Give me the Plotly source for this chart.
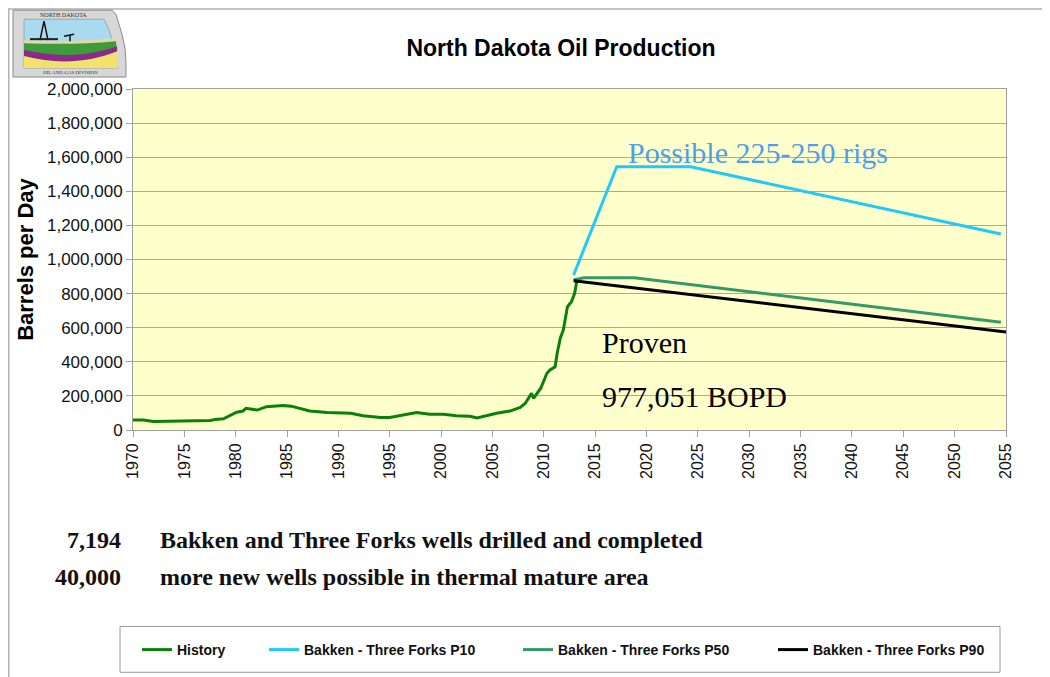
import plotly.graph_objects as go

# ---------------- data ----------------
hist_year = [1970.0, 1971.0, 1972.0, 1975.2, 1977.5, 1978.0, 1978.8, 1980.1, 1980.7, 1981.0,
             1982.1, 1983.0, 1984.6, 1985.4, 1986.1, 1987.2, 1988.9, 1990.2, 1991.2, 1992.4,
             1994.1, 1995.0, 1996.3, 1997.6, 1998.9, 2000.2, 2001.5, 2002.8, 2003.5, 2004.5,
             2005.4, 2006.7, 2007.7, 2008.2, 2008.8, 2009.0, 2009.7, 2010.3, 2010.6, 2011.1,
             2011.3, 2011.6, 2011.9, 2012.3, 2012.7, 2013.0, 2013.2]
hist_bopd = [59000, 59000, 50000, 52000, 56000, 61000, 66000, 104000, 111000, 127000,
             117000, 137000, 143000, 140000, 127000, 111000, 102000, 98000, 98000, 84000,
             74000, 74000, 88000, 102000, 92000, 92000, 84000, 81000, 70000, 84000,
             98000, 111000, 133000, 157000, 215000, 186000, 245000, 333000, 352000, 371000,
             450000, 538000, 587000, 723000, 753000, 802000, 870000]

p10_year = [2012.9, 2017.1, 2024.3, 2054.5]
p10_bopd = [909000, 1544000, 1544000, 1150000]

p50_year = [2012.9, 2013.9, 2018.8, 2054.5]
p50_bopd = [880000, 893000, 893000, 632000]

p90_year = [2012.9, 2055.0]
p90_bopd = [876000, 575000]

series_names = ["History", "Bakken - Three Forks P10",
                "Bakken - Three Forks P50", "Bakken - Three Forks P90"]

title_text = "North Dakota Oil Production"
y_title = "Barrels per Day"
note_numbers = ["7,194", "40,000"]
note_texts = ["Bakken and Three Forks wells drilled and completed",
              "more new wells possible in thermal mature area"]
label_p10 = "Possible 225-250 rigs"
label_proven = ["Proven", "977,051 BOPD"]

# ---------------- layout geometry ----------------
# the page puts the figure at an 8px offset, so the figure is sized to end at the window edge
OFF = 8
W, H = 1050 - OFF, 677 - OFF
PL, PR, PT, PB = 133, 1006, 89, 431          # plot area, in window pixels
PW, PH = PR - PL, PB - PT
ML, MT = PL - OFF, PT - OFF
MR, MB = W - (PR - OFF), H - (PB - OFF)


def px(x):
    return (x - PL) / PW


def py(y):
    return (PB - y) / PH


def path(cmds, close=True):
    out = []
    for c in cmds:
        op, pts = c[0], c[1:]
        out.append(op + " ".join(f"{px(a):.5f},{py(b):.5f}" for a, b in pts))
    return " ".join(out) + (" Z" if close else "")


SANS = "Arial, Liberation Sans, sans-serif"
SERIF = "Times New Roman, Liberation Serif, serif"

fig = go.Figure()
colors = ["#0a800a", "#22c8f7", "#339966", "#000000"]
xs = [hist_year, p10_year, p50_year, p90_year]
ys = [hist_bopd, p10_bopd, p50_bopd, p90_bopd]
legends = ["legend", "legend2", "legend3", "legend4"]
for name, x, y, c, lg in zip(series_names, xs, ys, colors, legends):
    fig.add_trace(go.Scatter(x=x, y=y, mode="lines", name=name, showlegend=True,
                             line=dict(color=c, width=3), legend=lg))

legend_line_start = [143, 270, 524, 779]
leg_common = dict(orientation="h", xanchor="left", yanchor="middle", y=py(650),
                  bgcolor="rgba(0,0,0,0)", borderwidth=0, itemwidth=30, visible=True,
                  font=dict(family=SANS, size=14, color="#111", weight="bold"))
layout_legends = {}
for lg, lx in zip(legends, legend_line_start):
    layout_legends[lg] = dict(x=px(lx - 6), **leg_common)

shapes = []
# outer figure frame
shapes.append(dict(type="rect", xref="paper", yref="paper", x0=px(8.7), y0=py(8.7),
                   x1=px(1070), y1=py(700), line=dict(color="#b0b0b0", width=1.5),
                   fillcolor="rgba(0,0,0,0)", layer="below"))
# legend box
shapes.append(dict(type="rect", xref="paper", yref="paper", x0=px(120), y0=py(628),
                   x1=px(1000), y1=py(674), line=dict(color="#9a9a9a", width=1),
                   fillcolor="rgba(0,0,0,0)"))
# logo (simplified drawing)
shapes.append(dict(type="path", xref="paper", yref="paper",
                   path=path([("M", (13, 10)), ("L", (112, 10)), ("L", (116, 14)), ("L", (119, 24)),
                              ("L", (122, 34)), ("L", (125, 48)), ("L", (126, 62)), ("L", (126, 77)),
                              ("L", (13, 77))]),
                   fillcolor="#d7d7d7", line=dict(color="#8a8a8a", width=1)))
shapes.append(dict(type="path", xref="paper", yref="paper",
                   path=path([("M", (24, 19)), ("L", (104, 19)), ("L", (108, 27)), ("L", (112, 39)),
                              ("L", (116, 54)), ("L", (118, 68)), ("L", (24, 68))]),
                   fillcolor="#a9daf0", line=dict(color="#777", width=0.5)))
band_specs = [
    ((40, 41), (116, 38), "#e6d6a2"),
    ((43, 44), (116, 41), "#3f9c3c"),
    ((50, 57), (117, 46), "#8c2a8c"),
    ((56, 64), (118, 51), "#f1e26c"),
]
for (ly, my), (rx, ry), col in band_specs:
    shapes.append(dict(type="path", xref="paper", yref="paper",
                       path=path([("M", (24, ly)), ("C", (55, my), (85, my), (rx, ry)),
                                  ("L", (118, 68)), ("L", (24, 68))]),
                       fillcolor=col, line=dict(width=0)))
# derrick and pump jack
shapes.append(dict(type="path", xref="paper", yref="paper",
                   path=path([("M", (40, 40)), ("L", (44, 21)), ("L", (48, 40))], close=False),
                   line=dict(color="#111", width=1.5)))
shapes.append(dict(type="path", xref="paper", yref="paper",
                   path=path([("M", (30, 40)), ("L", (58, 40)), ("L", (58, 38)), ("L", (30, 38))]),
                   fillcolor="#222", line=dict(width=0)))
shapes.append(dict(type="path", xref="paper", yref="paper",
                   path=path([("M", (64, 36)), ("L", (74, 34)), ("M", (70, 35)), ("L", (70, 41))],
                             close=False),
                   line=dict(color="#111", width=1.5)))

annotations = []
annotations.append(dict(xref="paper", yref="paper", x=px(63), y=py(15), text="NORTH DAKOTA",
                        showarrow=False, font=dict(family=SERIF, size=6, color="#333"),
                        xanchor="center", yanchor="middle"))
annotations.append(dict(xref="paper", yref="paper", x=px(70), y=py(72), text="OIL AND GAS DIVISION",
                        showarrow=False, font=dict(family=SERIF, size=5, color="#333"),
                        xanchor="center", yanchor="middle"))
# in-plot labels
annotations.append(dict(xref="paper", yref="paper", x=px(626), y=py(153), text=label_p10,
                        showarrow=False, font=dict(family=SERIF, size=30, color="#4f9fe8"),
                        xanchor="left", yanchor="middle"))
for t, yy in zip(label_proven, [343, 397]):
    annotations.append(dict(xref="paper", yref="paper", x=px(600), y=py(yy), text=t,
                            showarrow=False, font=dict(family=SERIF, size=30, color="#000"),
                            xanchor="left", yanchor="middle"))
# notes below the chart
for num, txt, yy in zip(note_numbers, note_texts, [541, 578]):
    annotations.append(dict(xref="paper", yref="paper", x=px(123), y=py(yy), text=f"<b>{num}</b>",
                            showarrow=False, font=dict(family=SERIF, size=24, color="#111"),
                            xanchor="right", yanchor="middle"))
    annotations.append(dict(xref="paper", yref="paper", x=px(158), y=py(yy), text=f"<b>{txt}</b>",
                            showarrow=False, font=dict(family=SERIF, size=24, color="#111"),
                            xanchor="left", yanchor="middle"))

fig.update_layout(
    width=W, height=H, autosize=False, showlegend=True,
    margin=dict(l=ML, r=MR, t=MT, b=MB, pad=0),
    paper_bgcolor="white",
    plot_bgcolor="#ffffcc",
    title=dict(text=f"<b>{title_text}</b>", x=(561 - OFF) / W, xref="container", xanchor="center",
               y=1 - (48 - OFF) / H, yref="container", yanchor="middle",
               font=dict(family=SANS, size=23, color="#000")),
    xaxis=dict(range=[1970, 2055], tick0=1970, dtick=5, tickangle=-90,
               showgrid=False, zeroline=False, showline=True, linecolor="#a0a0a0", linewidth=1,
               mirror=True, ticks="outside", ticklen=6, tickcolor="#a0a0a0",
               tickfont=dict(family=SANS, size=16, color="#111")),
    yaxis=dict(range=[0, 2000000], dtick=200000, tickformat=",d",
               showgrid=True, gridcolor="#a8a8a8", gridwidth=1, zeroline=False,
               showline=True, linecolor="#a0a0a0", linewidth=1, mirror=True,
               ticks="outside", ticklen=6, tickcolor="#a0a0a0",
               tickfont=dict(family=SANS, size=17, color="#111"),
               title=dict(text=f"<b>{y_title}</b>", standoff=7,
                          font=dict(family=SANS, size=22, color="#000"))),
    shapes=shapes,
    annotations=annotations,
    **layout_legends,
)

fig.write_html("out.html")
